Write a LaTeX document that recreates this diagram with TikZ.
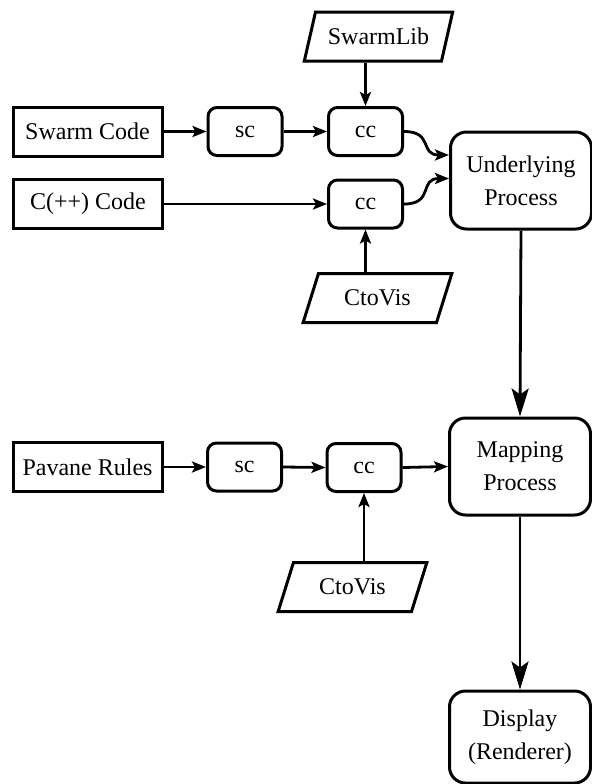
\documentclass[tikz,border=0pt]{standalone}
\usepackage{fontspec}
\setmainfont{Liberation Serif}
\usetikzlibrary{positioning,shapes.geometric,arrows.meta}

\tikzset{
  every node/.style={font=\fontsize{12}{16.5}\selectfont},
  src/.style={draw, rectangle, line width=1.5pt, minimum width=74.5pt, minimum height=24.5pt, inner sep=0pt},
  comp/.style={draw, rectangle, rounded corners=4.5pt, line width=1.5pt, minimum width=37pt, minimum height=24pt, inner sep=0pt},
  lib/.style={draw, trapezium, trapezium left angle=62, trapezium right angle=118, trapezium stretches=true, line width=1.5pt, minimum width=74.5pt, minimum height=24.5pt, inner sep=0pt},
  proc/.style={draw, rectangle, rounded corners=8pt, line width=1.5pt, minimum width=70.5pt, minimum height=48.5pt, inner sep=0pt, align=center},
  arr/.style={line width=1.4pt, -{Stealth[length=7pt,width=5.5pt,inset=1.5pt]}},
  bigarr/.style={line width=1.4pt, -{Stealth[length=14pt,width=8.5pt,inset=3pt]}},
}

\begin{document}
\begin{tikzpicture}[x=0.5pt,y=-0.5pt]
    \useasboundingbox (0,0) rectangle (592,784);

    % Upper row: simulation sources
    \node[lib]  (swarmlib) at (378.5,36.5) {SwarmLib};
    \node[src]  (swarm)    at (87.5,131.5) {Swarm Code};
    \node[comp] (sc1)      at (245,131.5)  {sc};
    \node[comp] (cc1)      at (365.5,131.5) {cc};
    \node[src]  (cpp)      at (88,204)     {C(++) Code};
    \node[comp] (cc2)      at (365.5,204)  {cc};
    \node[lib]  (ctovis1)  at (377.5,298)  {CtoVis};
    \node[proc] (under)    at (521,180.5)  {Underlying\\Process};

    % Lower row: animation rules
    \node[src]  (pavane)   at (87.5,467)   {Pavane Rules};
    \node[comp] (sc2)      at (244.5,467)  {sc};
    \node[comp] (cc3)      at (364,467.5)  {cc};
    \node[lib]  (ctovis2)  at (352.5,587)  {CtoVis};
    \node[proc] (mapping)  at (520,466.5)  {Mapping\\Process};
    \node[proc, minimum height=46pt] (display) at (520,737) {Display\\(Renderer)};

    % Compile chains
    \foreach \a/\b in {swarm/sc1, sc1/cc1, cpp/cc2, pavane/sc2, sc2/cc3, cc3/mapping} {
      \draw[arr] (\a.east) -- (\b.west);
    }

    % Libraries into the compilers
    \draw[arr] (cc1.north |- swarmlib.south) -- (cc1.north);
    \draw[arr] (cc2.south |- ctovis1.north) -- (cc2.south);
    \draw[arr] (cc3.south |- ctovis2.north) -- (cc3.south);

    % Linked objects feed the process
    \draw[arr] (cc1.east) to[out=0,in=180,looseness=1.5] ([yshift=12.75pt]under.west);
    \draw[arr] (cc2.east) to[out=0,in=180,looseness=1.5] ([yshift=1pt]under.west);

    % Pipeline down the right side
    \draw[bigarr] (under.south) -- (mapping.north);
    \draw[bigarr] (mapping.south) -- (display.north);

\end{tikzpicture}
\end{document}
